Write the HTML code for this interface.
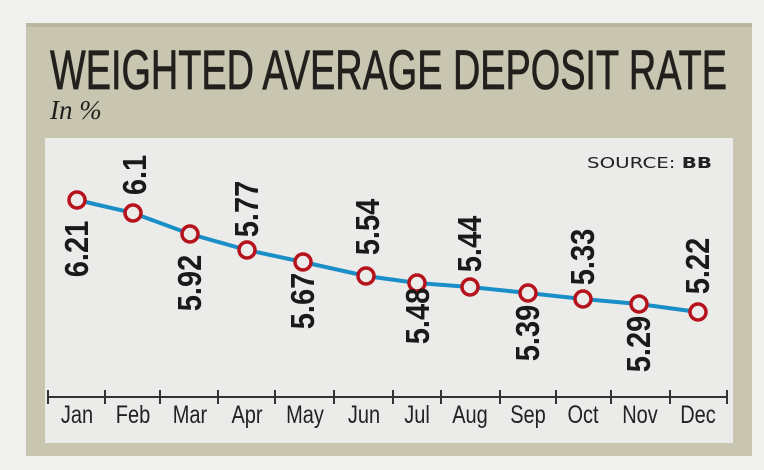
<!DOCTYPE html>
<html><head><meta charset="utf-8"><style>
html,body{margin:0;padding:0;background:#f0f0ee;}
svg{display:block}
</style></head><body>
<svg width="764" height="470" xmlns="http://www.w3.org/2000/svg">
<rect width="764" height="470" fill="#f0f0ee"/>
<rect x="26" y="23" width="726" height="433" fill="#c8c5b1"/>
<rect x="26" y="23" width="726" height="4" fill="#b9b6a2"/>
<rect x="45" y="138" width="688" height="305" fill="#ebebea"/>
<text x="50" y="89" font-family="Liberation Sans, sans-serif" font-size="56" fill="#231f1c" stroke="#231f1c" stroke-width="0.8" textLength="677" lengthAdjust="spacingAndGlyphs">WEIGHTED AVERAGE DEPOSIT RATE</text>
<text x="50" y="119" font-family="Liberation Serif, serif" font-style="italic" font-size="27" fill="#231f1c">In %</text>
<text x="587" y="168" font-family="DejaVu Sans, sans-serif" font-size="15" fill="#222" textLength="125" lengthAdjust="spacingAndGlyphs">SOURCE: <tspan font-weight="bold">BB</tspan></text>
<polyline fill="none" stroke="#1a8ec7" stroke-width="4" points="77,200 133,213 190,234 247,250 303,262 366,276 417,283 470,287 528,293 583,299 639,304 698,312"/>
<g fill="#ebebea" stroke="#b5121b" stroke-width="3.5">
<circle cx="77" cy="200" r="8"/><circle cx="133" cy="213" r="8"/><circle cx="190" cy="234" r="8"/><circle cx="247" cy="250" r="8"/><circle cx="303" cy="262" r="8"/><circle cx="366" cy="276" r="8"/><circle cx="417" cy="283" r="8"/><circle cx="470" cy="287" r="8"/><circle cx="528" cy="293" r="8"/><circle cx="583" cy="299" r="8"/><circle cx="639" cy="304" r="8"/><circle cx="698" cy="312" r="8"/>
</g>
<g font-family="Liberation Sans, sans-serif" font-weight="bold" font-size="33" fill="#1a1a1a" text-anchor="middle">
<text transform="translate(88,249) rotate(-90) scale(0.88,1)">6.21</text>
<text transform="translate(146,175) rotate(-90) scale(0.88,1)">6.1</text>
<text transform="translate(201,283) rotate(-90) scale(0.88,1)">5.92</text>
<text transform="translate(258,209) rotate(-90) scale(0.88,1)">5.77</text>
<text transform="translate(314,301) rotate(-90) scale(0.88,1)">5.67</text>
<text transform="translate(379,227) rotate(-90) scale(0.88,1)">5.54</text>
<text transform="translate(429,316) rotate(-90) scale(0.88,1)">5.48</text>
<text transform="translate(481,244) rotate(-90) scale(0.88,1)">5.44</text>
<text transform="translate(539,333) rotate(-90) scale(0.88,1)">5.39</text>
<text transform="translate(594,257) rotate(-90) scale(0.88,1)">5.33</text>
<text transform="translate(650,344) rotate(-90) scale(0.88,1)">5.29</text>
<text transform="translate(709,266) rotate(-90) scale(0.88,1)">5.22</text>
</g>
<g stroke="#333" stroke-width="2">
<line x1="48" y1="397" x2="727" y2="397"/>
<line x1="48" y1="390" x2="48" y2="404"/><line x1="105" y1="390" x2="105" y2="404"/><line x1="160" y1="390" x2="160" y2="404"/><line x1="218" y1="390" x2="218" y2="404"/><line x1="275" y1="390" x2="275" y2="404"/><line x1="334" y1="390" x2="334" y2="404"/><line x1="393" y1="390" x2="393" y2="404"/><line x1="441" y1="390" x2="441" y2="404"/><line x1="500" y1="390" x2="500" y2="404"/><line x1="556" y1="390" x2="556" y2="404"/><line x1="611" y1="390" x2="611" y2="404"/><line x1="670" y1="390" x2="670" y2="404"/><line x1="727" y1="390" x2="727" y2="404"/>
</g>
<g font-family="Liberation Sans, sans-serif" font-size="25" fill="#222" text-anchor="middle">
<text transform="translate(77,423) scale(0.8,1)">Jan</text>
<text transform="translate(133,423) scale(0.8,1)">Feb</text>
<text transform="translate(190,423) scale(0.8,1)">Mar</text>
<text transform="translate(247,423) scale(0.8,1)">Apr</text>
<text transform="translate(305,423) scale(0.8,1)">May</text>
<text transform="translate(364,423) scale(0.8,1)">Jun</text>
<text transform="translate(417,423) scale(0.8,1)">Jul</text>
<text transform="translate(470,423) scale(0.8,1)">Aug</text>
<text transform="translate(528,423) scale(0.8,1)">Sep</text>
<text transform="translate(583,423) scale(0.8,1)">Oct</text>
<text transform="translate(640,423) scale(0.8,1)">Nov</text>
<text transform="translate(698,423) scale(0.8,1)">Dec</text>
</g>
</svg>
</body></html>
